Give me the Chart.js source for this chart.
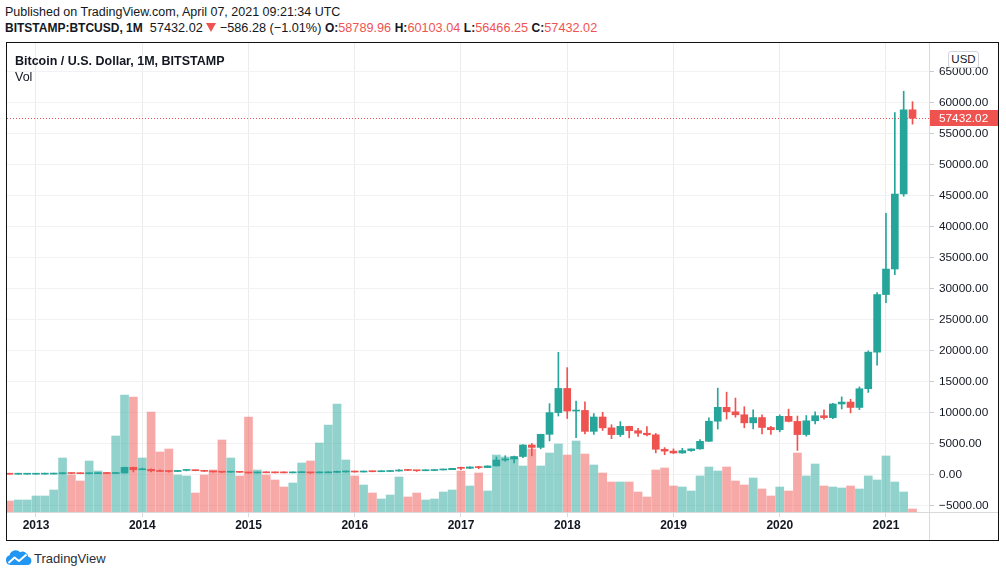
<!DOCTYPE html>
<html>
<head>
<meta charset="utf-8">
<script src="https://cdn.jsdelivr.net/npm/chart.js@4.4.1/dist/chart.umd.min.js"></script>
<style>
  html, body { margin: 0; padding: 0; background: #fff; width: 1006px; height: 577px; overflow: hidden; }
  body { position: relative; font-family: "Liberation Sans", Arial, sans-serif; color: #131722; }
  .t { position: absolute; white-space: nowrap; line-height: 1; font-size: 12.5px; }
  .b { font-weight: bold; }
  .hb { font-weight: bold; font-size: 12px; }
  .r { color: #ef5350; }
  #frame { position: absolute; left: 6px; top: 42px; width: 991px; height: 497px; border: 1px solid #111; }
  #cv { position: absolute; left: 7px; top: 43px; }
  #usd { position: absolute; left: 948px; top: 51px; width: 29px; height: 15px; border: 1px solid #d1d4dc; border-radius: 3px;
         background: #fff; font-size: 11.5px; line-height: 15px; text-align: center; color: #131722; }
</style>
</head>
<body>
<div class="t" style="left:5px;top:5.7px;">Published on TradingView.com, April 07, 2021 09:21:34 UTC</div>
<div class="t" style="left:5px;top:21.5px;font-size:12.7px;"><span class="hb">BITSTAMP:BTCUSD, 1M</span>&nbsp; 57432.02 <svg width="10" height="9" viewBox="0 0 10 9" style="vertical-align:-0.5px"><path d="M0 0 H10 L5 9 Z" fill="#ef5350"/></svg> &minus;586.28 (&minus;1.01%) <span class="hb">O:</span><span class="r">58789.96</span> <span class="hb">H:</span><span class="r">60103.04</span> <span class="hb">L:</span><span class="r">56466.25</span> <span class="hb">C:</span><span class="r">57432.02</span></div>
<div id="frame"></div>
<canvas id="cv" width="991" height="497"></canvas>
<div class="t b" style="left:15px;top:54.7px;">Bitcoin / U.S. Dollar, 1M, BITSTAMP</div>
<div class="t" style="left:15px;top:71.1px;">Vol</div>
<div id="usd">USD</div>
<svg width="28" height="18" viewBox="0 0 28 18" style="position:absolute;left:5px;top:548px">
  <path fill="#2196f3" d="M5.5 17 A5 5 0 0 1 4.6 7.2 A6.2 6.2 0 0 1 15.2 4.2 A5.6 5.6 0 0 1 23.2 8.8 A4.2 4.2 0 0 1 23 17 Z"/>
  <polyline points="3.5,15 9.5,9.5 14,13 21.5,6.5" fill="none" stroke="#fff" stroke-width="2" stroke-linejoin="round"/>
</svg>
<div class="t" style="left:34px;top:552px;font-size:13px;color:#2a2e39;">TradingView</div>

<script>
// ---- Data (monthly BITSTAMP:BTCUSD, Oct 2012 .. Apr 2021) ----
const months = [
  '2012-10','2012-11','2012-12',
  '2013-01','2013-02','2013-03','2013-04','2013-05','2013-06','2013-07','2013-08','2013-09','2013-10','2013-11','2013-12',
  '2014-01','2014-02','2014-03','2014-04','2014-05','2014-06','2014-07','2014-08','2014-09','2014-10','2014-11','2014-12',
  '2015-01','2015-02','2015-03','2015-04','2015-05','2015-06','2015-07','2015-08','2015-09','2015-10','2015-11','2015-12',
  '2016-01','2016-02','2016-03','2016-04','2016-05','2016-06','2016-07','2016-08','2016-09','2016-10','2016-11','2016-12',
  '2017-01','2017-02','2017-03','2017-04','2017-05','2017-06','2017-07','2017-08','2017-09','2017-10','2017-11','2017-12',
  '2018-01','2018-02','2018-03','2018-04','2018-05','2018-06','2018-07','2018-08','2018-09','2018-10','2018-11','2018-12',
  '2019-01','2019-02','2019-03','2019-04','2019-05','2019-06','2019-07','2019-08','2019-09','2019-10','2019-11','2019-12',
  '2020-01','2020-02','2020-03','2020-04','2020-05','2020-06','2020-07','2020-08','2020-09','2020-10','2020-11','2020-12',
  '2021-01','2021-02','2021-03','2021-04'
];
const open = [
  12.4, 11.2, 12.6,
  13.5, 20.4, 33.4, 93.0, 139, 128.8, 97.5, 106.2, 135.3, 133, 204, 1120,
  732, 803, 550, 457, 447, 627, 640, 584, 480, 386, 338, 378,
  320, 217, 254, 244, 236, 230, 263, 284, 230, 236, 313, 377,
  430, 368, 436, 416, 448, 531, 673, 624, 574, 609, 701, 742,
  966, 965, 1190, 1080, 1350, 2300, 2480, 2870, 4730, 4340, 6450, 9950,
  13850, 10200, 10300, 6926, 9240, 7494, 6404, 7730, 7030, 6626, 6370, 4040,
  3740, 3440, 3820, 4100, 5320, 8560, 10800, 10080, 9600, 8300, 9150, 7550,
  7190, 9350, 8530, 6410, 8630, 9450, 9140, 11340, 11650, 10780, 13800, 19700,
  28990, 33110, 45200, 58789.96
];
const high = [
  12.9, 12.6, 13.9,
  20.7, 33.4, 95, 266, 140, 129, 111, 136, 148, 230, 1163, 1160,
  1000, 880, 710, 547, 633, 680, 660, 600, 500, 415, 460, 385,
  320, 265, 299, 260, 249, 267, 317, 285, 245, 330, 502, 465,
  460, 445, 439, 467, 546, 780, 700, 626, 611, 740, 753, 970,
  1150, 1200, 1290, 1375, 2790, 3000, 2930, 4800, 4980, 6470, 11400, 19666,
  17200, 11800, 11700, 9800, 10000, 8000, 8500, 7750, 7400, 7680, 6590, 4300,
  4100, 4200, 4100, 5600, 9100, 13900, 13250, 12300, 10900, 10400, 9600, 7750,
  9570, 10500, 9400, 9480, 10070, 10380, 11450, 12480, 12090, 14100, 19900, 29300,
  42100, 58350, 61780, 60103.04
];
const low = [
  10.2, 10.5, 12.1,
  13.2, 19.1, 33.1, 50, 79, 88.5, 65, 100, 118, 100, 203, 380,
  730, 400, 440, 340, 420, 550, 565, 445, 360, 275, 315, 300,
  152, 212, 240, 214, 226, 221, 253, 162, 224, 235, 310, 350,
  350, 365, 393, 412, 438, 524, 605, 465, 570, 605, 680, 740,
  750, 915, 890, 1060, 1350, 2100, 1850, 2700, 2980, 4110, 5380, 9400,
  9000, 5900, 6500, 6430, 7070, 5750, 6100, 5880, 6100, 6200, 3450, 3150,
  3350, 3380, 3700, 4050, 5320, 7300, 8900, 9200, 7500, 7300, 6500, 6430,
  6850, 8450, 3850, 6150, 8120, 8900, 8970, 10540, 9900, 10430, 13200, 17600,
  27700, 32200, 44850, 56466.25
];
const close = [
  11.2, 12.6, 13.5,
  20.4, 33.4, 93.0, 139, 128.8, 97.5, 106.2, 135.3, 133, 204, 1120, 732,
  803, 550, 457, 447, 627, 640, 584, 480, 386, 338, 378, 320,
  217, 254, 244, 236, 230, 263, 284, 230, 236, 313, 377, 430,
  368, 436, 416, 448, 531, 673, 624, 574, 609, 701, 742, 966,
  965, 1190, 1080, 1350, 2300, 2480, 2870, 4730, 4340, 6450, 9950, 13850,
  10200, 10300, 6926, 9240, 7494, 6404, 7730, 7030, 6626, 6370, 4040, 3740,
  3440, 3820, 4100, 5320, 8560, 10800, 10080, 9600, 8300, 9150, 7550, 7190,
  9350, 8530, 6410, 8630, 9450, 9140, 11340, 11650, 10780, 13800, 19700, 28990,
  33110, 45200, 58789.96, 57432.02
];
// volume (relative units)
const volume = [
  11, 12, 12,
  16, 16, 22, 54, 37, 31, 51, 41, 39, 76, 117, 115,
  54, 100, 60, 63, 37, 36, 19, 37, 42, 72, 54, 36,
  95, 42, 37, 32, 25, 29, 49, 51, 69, 87, 108, 52,
  36, 27, 19, 13, 17, 35, 15, 19, 12, 13, 20, 22,
  41, 26, 39, 21, 57, 55, 54, 46, 63, 46, 59, 68,
  57, 71, 58, 47, 39, 30, 30, 30, 20, 15, 42, 44,
  26, 25, 21, 36, 45, 41, 45, 31, 27, 34, 23, 16,
  25, 21, 59, 36, 48, 26, 25, 24, 26, 23, 36, 32,
  56, 30, 20, 3
];
const yearTicks = [2013, 2014, 2015, 2016, 2017, 2018, 2019, 2020, 2021];
const priceTicks = [-5000, 0, 5000, 10000, 15000, 20000, 25000, 30000, 35000, 40000, 45000, 50000, 55000, 60000, 65000];

// ---- Chart ----
const UP = '#26a69a', DOWN = '#ef5350';
const UPV = 'rgba(38,166,154,0.5)', DOWNV = 'rgba(239,83,80,0.5)';
const FONT = '"Liberation Sans", Arial, sans-serif';
Chart.defaults.font.family = FONT;

const xOf = m => { const [y, mo] = m.split('-').map(Number); return (y - 2013) * 12 + (mo - 1); };
const isUp = i => close[i] >= open[i];
const lastClose = close[close.length - 1];

const bodyData = months.map((m, i) => ({ x: xOf(m), y: [open[i], close[i]] }));
const wickData = months.map((m, i) => ({ x: xOf(m), y: [low[i], high[i]] }));
const volData = months.map((m, i) => ({ x: xOf(m), y: volume[i] }));
const candleColors = months.map((m, i) => isUp(i) ? UP : DOWN);
const volColors = months.map((m, i) => isUp(i) ? UPV : DOWNV);

const noPad = s => { s.paddingTop = 0; s.paddingBottom = 0; s.paddingLeft = 0; s.paddingRight = 0; };

const frameLines = {
  id: 'frameLines',
  beforeDatasetsDraw(chart) {
    const { ctx, chartArea, scales: { y } } = chart;
    const py = Math.round(y.getPixelForValue(lastClose)) + 0.5;
    ctx.save();
    ctx.strokeStyle = DOWN; ctx.lineWidth = 1; ctx.setLineDash([1, 2]);
    ctx.beginPath(); ctx.moveTo(chartArea.left, py); ctx.lineTo(chartArea.right, py); ctx.stroke();
    ctx.restore();
  },
  afterDraw(chart) {
    const { ctx, chartArea, scales: { y } } = chart;
    const W = chart.width, H = chart.height;
    ctx.save();
    ctx.strokeStyle = '#d9dadd'; ctx.lineWidth = 1;
    const xr = Math.round(chartArea.right) + 0.5, yb = Math.round(chartArea.bottom) + 0.5;
    ctx.beginPath(); ctx.moveTo(xr, 0); ctx.lineTo(xr, H); ctx.stroke();
    ctx.beginPath(); ctx.moveTo(0, yb); ctx.lineTo(W, yb); ctx.stroke();
    const py = Math.round(y.getPixelForValue(lastClose));
    ctx.fillStyle = DOWN;
    ctx.fillRect(xr + 0.5, py - 8, W - xr, 16);
    ctx.fillStyle = '#fff';
    ctx.font = '11.8px ' + FONT;
    ctx.textBaseline = 'middle';
    ctx.fillText(lastClose.toFixed(2), chartArea.right + 10, py + 0.5);
    ctx.restore();
  }
};

new Chart(document.getElementById('cv'), {
  type: 'bar',
  data: {
    datasets: [
      { label: 'Body', data: bodyData, backgroundColor: candleColors, barThickness: 7, minBarLength: 1,
        grouped: false, borderWidth: 0, yAxisID: 'y', order: 1 },
      { label: 'Wick', data: wickData, backgroundColor: candleColors, barThickness: 1, minBarLength: 1,
        grouped: false, borderWidth: 0, yAxisID: 'y', order: 2 },
      { label: 'Vol', data: volData, backgroundColor: volColors, barThickness: 8,
        grouped: false, borderWidth: 0, yAxisID: 'yv', order: 3 }
    ]
  },
  options: {
    responsive: false,
    animation: false,
    layout: { padding: 0 },
    plugins: { legend: { display: false }, tooltip: { enabled: false } },
    scales: {
      x: {
        type: 'linear', min: -3.275, max: 100.86, offset: false,
        grid: { offset: false, color: '#ececee', tickColor: '#d9dadd', tickLength: 5, drawTicks: true },
        border: { display: false },
        ticks: { padding: 1, color: '#131722', font: { size: 12, weight: 'bold' }, maxRotation: 0,
                 callback: v => String(2013 + Math.round(v / 12)) },
        afterBuildTicks: s => { s.ticks = yearTicks.map(yr => ({ value: (yr - 2013) * 12 })); },
        afterFit: s => { s.height = 28; noPad(s); }
      },
      y: {
        type: 'linear', position: 'right', min: -6080, max: 69560,
        grid: { color: '#f2f2f4', tickColor: '#c9cbd0', tickLength: 5, drawTicks: true },
        border: { display: false },
        ticks: { padding: 5, color: '#131722', font: { size: 11.8 }, crossAlign: 'near',
                 callback: v => v.toFixed(2).replace('-', '\u2212') },
        afterBuildTicks: s => { s.ticks = priceTicks.map(v => ({ value: v })); },
        afterFit: s => { s.width = 69; noPad(s); }
      },
      yv: { type: 'linear', display: false, min: 0, max: 469, afterFit: noPad }
    }
  },
  plugins: [frameLines]
});
</script>
</body>
</html>
